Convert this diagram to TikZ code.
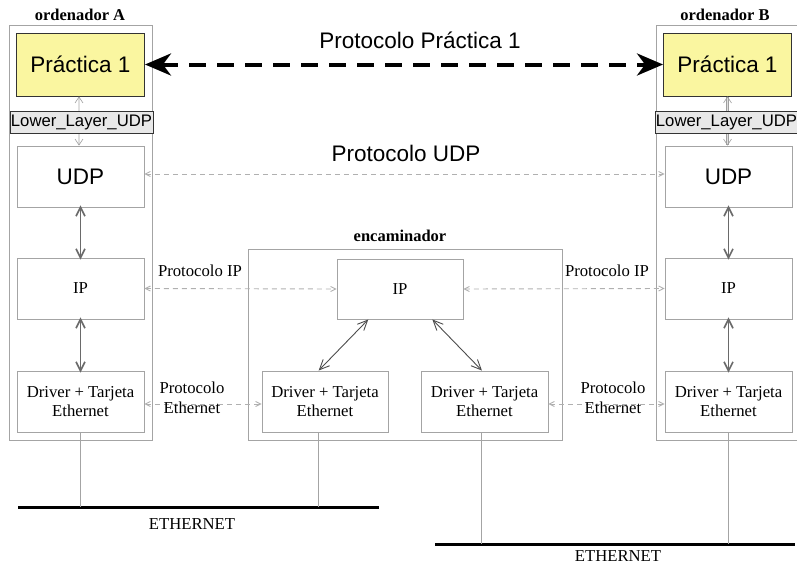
\documentclass[tikz,border=0pt]{standalone}
\usepackage{fontspec}
\setmainfont{Liberation Serif}
\setsansfont{Liberation Sans}
\usetikzlibrary{arrows.meta,calc}
\definecolor{boxline}{HTML}{A4A4A4}
\definecolor{appfill}{RGB}{250,246,160}
\definecolor{llfill}{HTML}{E8E8E8}
\definecolor{layerarrow}{HTML}{6A6A6A}
\definecolor{protline}{HTML}{B0B0B0}
\tikzset{
  frame/.style={draw=boxline, line width=0.9pt, inner sep=0pt},
  layer/.style={draw=boxline, line width=0.9pt, inner sep=0pt, minimum width=127pt, minimum height=61pt,
    align=center, font=\fontsize{16.7}{19.5}\selectfont},
  biglayer/.style={layer, font=\sffamily\fontsize{22.5}{26}\selectfont},
  appbox/.style={draw=black!80, fill=appfill, line width=0.9pt, inner sep=0pt, minimum width=128pt,
    minimum height=63pt, font=\sffamily\fontsize{22.5}{26}\selectfont},
  llbox/.style={draw=black!80, fill=llfill, line width=0.8pt, inner sep=0pt, minimum width=143pt,
    minimum height=22pt, font=\sffamily\fontsize{16.7}{19}\selectfont},
  title/.style={font=\bfseries\fontsize{16.5}{19}\selectfont},
  plabel/.style={font=\fontsize{16.7}{19.5}\selectfont, align=center, inner sep=0pt},
  biglabel/.style={font=\sffamily\fontsize{22.5}{26}\selectfont, inner sep=0pt},
  stackarrow/.style={draw=layerarrow, line width=1.6pt, {Straight Barb[length=9pt,width=9pt]}-{Straight Barb[length=9pt,width=9pt]}},
  apiarrow/.style={draw=gray!75, double=gray!25, double distance=1.4pt, line width=0.6pt,
    {Straight Barb[length=6pt,width=8pt]}-{Straight Barb[length=6pt,width=8pt]}},
  routerarrow/.style={draw=black!70, line width=0.9pt, {Straight Barb[length=10pt,width=9pt]}-{Straight Barb[length=10pt,width=9pt]}},
  protarrow/.style={draw=protline, line width=0.9pt, dash pattern=on 5pt off 4pt,
    {Straight Barb[length=5pt,width=5pt]}-{Straight Barb[length=5pt,width=5pt]}},
  apparrow/.style={draw=black, line width=4pt, dash pattern=on 17pt off 11pt,
    {Stealth[length=26pt,width=22pt,inset=8pt]}-{Stealth[length=26pt,width=22pt,inset=8pt]}},
  wire/.style={draw=boxline, line width=0.9pt},
  bus/.style={draw=black, line width=3pt},
}
\begin{document}
\begin{tikzpicture}[x=1pt,y=-1pt]
\useasboundingbox (0,0) rectangle (797,565);

% ---- host A ----
\node[frame, minimum width=143pt, minimum height=415pt] (hostA) at (80.5,232.5) {};
\node[title] (tA) at (80,15) {ordenador A};
\node[appbox] (pA) at (80.5,64.5) {Práctica 1};
\node[biglayer] (uA) at (80.5,176.5) {UDP};
\draw[apiarrow] ([xshift=-1.5pt]pA.south) -- ([xshift=-1.5pt]uA.north);
\node[llbox] (lA) at (81.5,122) {Lower\_Layer\_UDP};
\node[layer] (iA) at (80.5,288.5) {IP};
\node[layer] (dA) at (80.5,401.5) {Driver + Tarjeta\\Ethernet};

% ---- host B ----
\node[frame, minimum width=143pt, minimum height=415pt] (hostB) at (727.5,232.5) {};
\node[title] (tB) at (725,15) {ordenador B};
\node[appbox] (pB) at (727.5,64.5) {Práctica 1};
\node[biglayer] (uB) at (728.5,176.5) {UDP};
\draw[apiarrow] (pB.south) -- (uB.north -| pB.south);
\node[llbox] (lB) at (726.5,122) {Lower\_Layer\_UDP};
\node[layer] (iB) at (728.5,288.5) {IP};
\node[layer] (dB) at (728.5,401.5) {Driver + Tarjeta\\Ethernet};

% ---- router ----
\node[frame, minimum width=314pt, minimum height=191pt] (rt) at (405,344.5) {};
\node[title] (tR) at (400,236) {encaminador};
\node[layer, minimum width=126pt, minimum height=60pt] (rI) at (400,289) {IP};
\node[layer, minimum width=126pt] (rL) at (325,401.5) {Driver + Tarjeta\\Ethernet};
\node[layer] (rR) at (484.5,401.5) {Driver + Tarjeta\\Ethernet};

% attachment points under and between the router boxes
\coordinate (rIa) at ($(rI.south west)!0.25!(rI.south east)$);
\coordinate (rIb) at ($(rI.south west)!0.755!(rI.south east)$);
\coordinate (rLa) at ($(rL.north west)!0.45!(rL.north east)$);
\coordinate (rLb) at ($(rL.south west)!0.45!(rL.south east)$);
\coordinate (rRa) at ($(rR.north west)!0.48!(rR.north east)$);
\coordinate (rRb) at ($(rR.south west)!0.48!(rR.south east)$);

% ---- Ethernet segments ----
\coordinate (e1w) at (18,507);
\coordinate (e1e) at (379,507);
\coordinate (e2w) at (435,544);
\coordinate (e2e) at (795,544);
\draw[bus] (e1w) -- (e1e);
\draw[bus] (e2w) -- (e2e);
\node[plabel] (n1) at (192,524) {ETHERNET};
\node[plabel] (n2) at (618,556) {ETHERNET};
\draw[wire] (dA.south) -- (dA.south |- e1w);
\draw[wire] (rLb) -- (rLb |- e1w);
\draw[wire] (rRb) -- (rRb |- e2w);
\draw[wire] (dB.south) -- (dB.south |- e2w);

% ---- stack arrows ----
\draw[stackarrow] ([yshift=2pt]uA.south) -- ([yshift=-2pt]iA.north);
\draw[stackarrow] ([yshift=2pt]iA.south) -- ([yshift=-2pt]dA.north);
\draw[stackarrow] ([yshift=2pt]uB.south) -- ([yshift=-2pt]iB.north);
\draw[stackarrow] ([yshift=2pt]iB.south) -- ([yshift=-2pt]dB.north);
\draw[routerarrow] (rIa) -- (rLa);
\draw[routerarrow] (rIb) -- (rRa);

% ---- peer protocols ----
\draw[apparrow] (pA.east) -- (pB.west);
\node[biglabel] (lp) at (420,40) {Protocolo Práctica 1};
\draw[protarrow] ([yshift=2.5pt]uA.east) -- ([yshift=2.5pt]uB.west);
\node[biglabel] (lu) at (406,153) {Protocolo UDP};
\draw[protarrow] (iA.east) -- (rI.west);
\draw[protarrow] (rI.east) -- (iB.west);
\node[plabel] (li1) at (200,271) {Protocolo IP};
\node[plabel] (li2) at (607,271) {Protocolo IP};
\draw[protarrow] ([yshift=-2.5pt]dA.east) -- ([yshift=-2.5pt]rL.west);
\draw[protarrow] ([yshift=-2.5pt]rR.east) -- ([yshift=-2.5pt]dB.west);
\node[plabel] (le1) at (192,398) {Protocolo\\Ethernet};
\node[plabel] (le2) at (613,398) {Protocolo\\Ethernet};
\end{tikzpicture}
\end{document}
